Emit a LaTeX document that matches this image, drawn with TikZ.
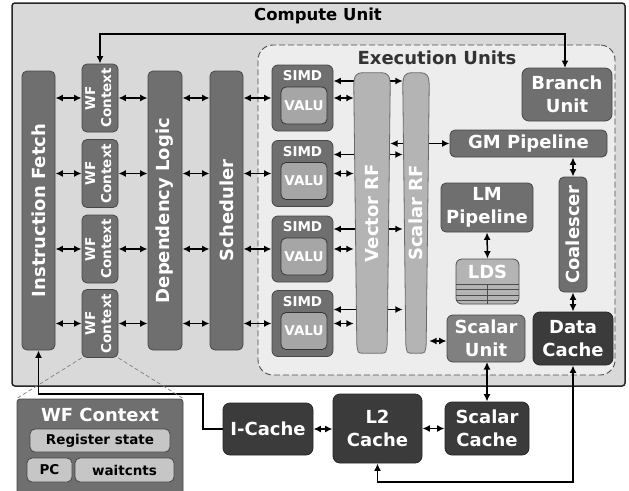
\documentclass[tikz,border=0pt]{standalone}
\usepackage{fontspec}
\setmainfont{DejaVu Sans}
\usepackage{graphicx}
\usetikzlibrary{arrows.meta,calc}
\pgfdeclarelayer{back}
\pgfdeclarelayer{mid}
\pgfsetlayers{back,mid,main}
\definecolor{cubg}{HTML}{D9D9D9}
\definecolor{eubg}{HTML}{EDEDED}
\definecolor{dk}{HTML}{6F6F6F}
\definecolor{dkline}{HTML}{474747}
\definecolor{valuc}{HTML}{A6A6A6}
\definecolor{rfc}{HTML}{B4B4B4}
\definecolor{rfline}{HTML}{6A6A6A}
\definecolor{vdk}{HTML}{3B3B3B}
\definecolor{suc}{HTML}{808080}
\definecolor{ltc}{HTML}{C6C6C6}
\newcommand\fntL{\fontsize{18}{23}\selectfont\bfseries}
\newcommand\fntS{\fontsize{13.5}{16}\selectfont\bfseries}
\newcommand\fntT{\fontsize{16.5}{20}\selectfont\bfseries}
\newcommand\rfpath[1]{%
  \path[rfs] ($(#1.south west)+(3,-9)$) -- ($(#1.north west)+(0,14)$)
    .. controls ($(#1.north west)+(0,3)$) and ($(#1.north west)+(2,0)$) .. ($(#1.north west)+(9,0)$)
    -- ($(#1.north east)+(-9,0)$)
    .. controls ($(#1.north east)+(-2,0)$) and ($(#1.north east)+(0,3)$) .. ($(#1.north east)+(0,14)$)
    -- ($(#1.south east)+(-3,-9)$)
    .. controls ($(#1.south east)+(-4,0)$) .. ($(#1.south east)+(-10,0)$)
    -- ($(#1.south west)+(10,0)$)
    .. controls ($(#1.south west)+(4,0)$) .. cycle;}
\begin{document}
\begin{tikzpicture}[x=1pt,y=-1pt,
  box/.style={draw=dkline, line width=0.8pt, fill=dk, rounded corners=5pt, text=white, font=\fntL, inner sep=0pt, align=center},
  vdkbox/.style={box, fill=vdk, draw=black!85, rounded corners=7pt},
  valubox/.style={box, fill=valuc, draw=black!80, font=\fntS},
  simdlbl/.style={text=white, font=\fntS, inner sep=0pt},
  rfbox/.style={draw=none, inner sep=0pt},
  rfs/.style={fill=rfc, draw=rfline, line width=0.8pt},
  rflbl/.style={text=white, font=\fntL, inner sep=0pt},
  ltbox/.style={draw=dkline, line width=0.8pt, fill=ltc, rounded corners=5pt, text=black, font=\fntS, inner sep=0pt},
  arr/.style={{Latex[length=7.5pt,width=7pt]}-{Latex[length=7.5pt,width=7pt]}, line width=1.5pt, black},
  sarr/.style={-{Latex[length=7.5pt,width=7pt]}, line width=1.5pt, black},
  zoomline/.style={draw=gray, dash pattern=on 4pt off 2.5pt, line width=0.7pt}
]
\useasboundingbox (0,0) rectangle (629,490);

\begin{pgfonlayer}{back}
\fill[white] (0,0) rectangle (629,490);
\node[draw=black!85, line width=1.5pt, fill=cubg, rounded corners=3pt, minimum width=613, minimum height=383, inner sep=0pt] (cu) at (318.5,194.5) {};
\node[draw=black!70, dash pattern=on 6pt off 3pt, line width=0.9pt, fill=eubg, rounded corners=15pt, minimum width=357, minimum height=330, inner sep=0pt] (eu) at (436.5,210) {};
\end{pgfonlayer}
\node[font=\fntT, text=black, inner sep=0pt] (cut) at (318,16) {Compute Unit};
\node[font=\fntL, text=black!80, inner sep=0pt] (eut) at (437,58) {Execution Units};

% front-end columns
\node[box, minimum width=33, minimum height=279] (if) at (38.5,210.5) {\rotatebox{90}{Instruction Fetch}};
\node[box, minimum width=34, minimum height=279] (dl) at (165,210.5) {\rotatebox{90}{Dependency Logic}};
\node[box, minimum width=33, minimum height=279] (sch) at (226.5,210.5) {\rotatebox{90}{Scheduler}};

\foreach \i/\y in {1/98,2/173.5,3/249,4/323.5} {
  \node[box, font=\fntS, minimum width=36, minimum height=68] (wf\i) at (100,\y) {\rotatebox{90}{\begin{tabular}{@{}c@{}}WF\\Context\end{tabular}}};
  \node[box, minimum width=61, minimum height=66, rounded corners=6pt] (simd\i) at (302.5,\y) {};
  \node[valubox, minimum width=46, minimum height=37] (valu\i) at (304,\y+7.5) {VALU};
  \node[simdlbl] (simdt\i) at ($(simd\i.north)+(0,11)$) {SIMD};
}

% register files
\node[rfbox, minimum width=36, minimum height=280] (vrf) at (372,213) {};
\node[rfbox, minimum width=26, minimum height=280] (srf) at (416,213) {};
\rfpath{vrf}
\rfpath{srf}
\node[rflbl] (vrft) at (vrf) {\rotatebox{90}{Vector RF}};
\node[rflbl] (srft) at (srf) {\rotatebox{90}{Scalar RF}};

% execution-side units
\node[box, minimum width=90, minimum height=53, rounded corners=7pt] (bu) at (567,94.5) {Branch\\Unit};
\node[box, minimum width=157, minimum height=27] (gm) at (528.5,143.5) {GM Pipeline};
\node[box, minimum width=28, minimum height=115] (co) at (573,234.5) {\rotatebox{90}{Coalescer}};
\node[box, minimum width=92, minimum height=49] (lm) at (487,207.5) {LM\\Pipeline};
\node[box, fill=rfc, draw=black!70, minimum width=63, minimum height=45, rounded corners=6pt] (lds) at (487.5,281.5) {};
\node[rflbl] (ldst) at (487.5,272) {LDS};
\draw[black!70, line width=0.7pt] (lds.west |- 0,284) -- (lds.east |- 0,284)
  (lds.west |- 0,289.5) -- (lds.east |- 0,289.5)
  (lds.west |- 0,295) -- (lds.east |- 0,295)
  (lds.west |- 0,300) -- (lds.east |- 0,300)
  (487.5,284) -- (lds.south);
\node[box, fill=suc, minimum width=78, minimum height=47, rounded corners=6pt] (su) at (486,338.5) {Scalar\\Unit};
\node[vdkbox, minimum width=80, minimum height=53] (dc) at (573,338.5) {Data\\Cache};

% memory hierarchy
\node[vdkbox, minimum width=90, minimum height=52] (ic) at (268,429) {I-Cache};
\node[vdkbox, minimum width=89, minimum height=69] (l2) at (377.5,428.5) {L2\\Cache};
\node[vdkbox, minimum width=84, minimum height=53] (sc) at (487,428.5) {Scalar\\Cache};

% WF context detail
\node[box, minimum width=166, minimum height=101, rounded corners=3pt] (det) at (100,449.5) {};
\node[text=white, font=\fntL, inner sep=0pt] (dett) at (100,415) {WF Context};
\node[ltbox, minimum width=140, minimum height=23] (rs) at (100,440.5) {Register state};
\node[ltbox, minimum width=45, minimum height=24] (pc) at (49.5,470) {PC};
\node[ltbox, minimum width=99, minimum height=24] (wc) at (124.5,470) {waitcnts};

\coordinate (topbus) at (0,34);
\coordinate (botbus) at (0,482);
\coordinate (icbend) at (203,394);

\begin{pgfonlayer}{mid}
\foreach \i/\s in {1/17,2/19,3/20,4/14} {
  \draw[arr] (if.east |- wf\i.west) -- (wf\i.west);
  \draw[arr] (wf\i.east) -- (dl.west |- wf\i.east);
  \draw[arr] (dl.east |- wf\i.east) -- (sch.west |- wf\i.east);
  \draw[arr] (sch.east |- simd\i.west) -- (simd\i.west);
  \draw[arr] (simd\i.east) -- (vrf.west |- simd\i.east);
  \coordinate (s\i) at ([yshift=\s pt]simd\i.east);
  \draw[arr] (s\i) -- (srf.west |- s\i);
}
\draw[arr] (vrf.east |- gm.west) -- (gm.west);
\draw[arr] (srf.east |- 0,341) -- (su.west |- 0,341);
\draw[arr] (wf1.north) -- (wf1.north |- topbus) -- (565,34) -- (565,68);
\draw[arr] (co.north |- gm.south) -- (co.north);
\draw[arr] (co.south) -- (co.south |- dc.north);
\draw[arr] (lm.south) -- (lds.north);
\draw[arr] (487,362) -- (sc.north);
\draw[arr] (ic.east) -- (l2.west |- ic.east);
\draw[arr] (l2.east |- sc.west) -- (sc.west);
\draw[arr] (dc.south) -- (dc.south |- botbus) -- (l2.south |- botbus) -- (l2.south);
\draw[sarr] (ic.west) -| (icbend) -| (if.south);
\draw[zoomline] (wf4.south west) -- (det.north west);
\draw[zoomline] (wf4.south east) -- (det.north east);
\end{pgfonlayer}
\end{tikzpicture}
\end{document}
